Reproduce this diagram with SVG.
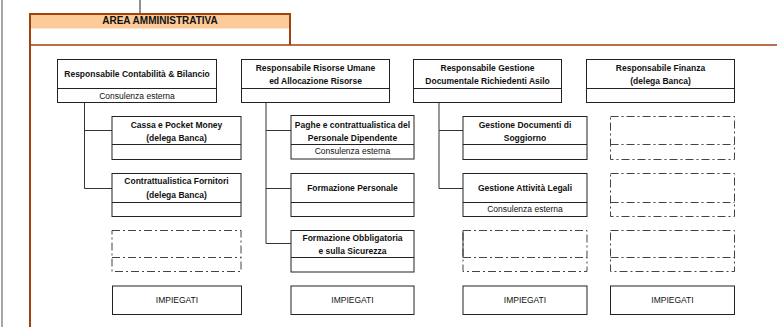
<svg xmlns="http://www.w3.org/2000/svg" width="777" height="327" viewBox="0 0 777 327">
<style>
text{font-family:"Liberation Sans",Arial,sans-serif;fill:#111;text-anchor:middle}
.t{font-size:8.5px;font-weight:bold}
.s{font-size:8.5px}
.h{font-size:10px;font-weight:bold}
.box{fill:#fff;stroke:#222;stroke-width:1}
.dash{fill:none;stroke:#444;stroke-width:1;stroke-dasharray:8 3 2 3}
.con{fill:none;stroke:#333;stroke-width:1}
.brown{fill:none;stroke:#A3410E}
</style>
<rect width="777" height="327" fill="#fff"/>
<g id="frame">
<line x1="2" y1="0" x2="2" y2="327" stroke="#888" stroke-width="1.5"/>
<line x1="140" y1="0" x2="140" y2="14" stroke="#222" stroke-width="1"/>
<rect x="30" y="14" width="260" height="14.5" fill="#FCCB97"/>
<path class="brown" stroke-width="2" d="M30 327 V14 H290 V45"/>
<line class="brown" stroke-width="1.5" x1="30" y1="45" x2="777" y2="45"/>
<text class="h" x="160" y="24">AREA AMMINISTRATIVA</text>
</g>
<g id="connectors">
<path class="con" d="M84.5 102 V188.5 M84.5 130.5 H112 M84.5 188.5 H112"/>
<path class="con" d="M266 102 V243.5 M266 130.5 H291 M266 188.5 H291 M266 243.5 H291"/>
<path class="con" d="M439 102 V188.5 M439 130.5 H463 M439 188.5 H463"/>
</g>
<g id="n-contabilita">
<rect class="box" x="57.5" y="59.5" width="159" height="43"/>
<line class="box" x1="57.5" y1="88.5" x2="216.5" y2="88.5"/>
<text class="t" x="137" y="77">Responsabile Contabilità &amp; Bilancio</text>
<text class="s" x="137" y="98.5">Consulenza esterna</text>
</g>
<g id="n-risorse">
<rect class="box" x="241.5" y="59.5" width="148" height="43"/>
<line class="box" x1="241.5" y1="88.5" x2="389.5" y2="88.5"/>
<text class="t" x="315.5" y="71">Responsabile Risorse Umane</text>
<text class="t" x="315.5" y="84">ed Allocazione Risorse</text>
</g>
<g id="n-gestione">
<rect class="box" x="413.5" y="59.5" width="148" height="43"/>
<line class="box" x1="413.5" y1="88.5" x2="561.5" y2="88.5"/>
<text class="t" x="487.5" y="71">Responsabile Gestione</text>
<text class="t" x="487.5" y="84">Documentale Richiedenti Asilo</text>
</g>
<g id="n-finanza">
<rect class="box" x="586.5" y="59.5" width="148" height="43"/>
<line class="box" x1="586.5" y1="88.5" x2="734.5" y2="88.5"/>
<text class="t" x="660.5" y="71">Responsabile Finanza</text>
<text class="t" x="660.5" y="84">(delega Banca)</text>
</g>
<g id="n-cassa">
<rect class="box" x="112" y="116.5" width="129" height="43"/>
<line class="box" x1="112" y1="144.5" x2="241" y2="144.5"/>
<text class="t" x="176.5" y="128">Cassa e Pocket Money</text>
<text class="t" x="176.5" y="141">(delega Banca)</text>
</g>
<g id="n-fornitori">
<rect class="box" x="112" y="173.5" width="129" height="43"/>
<line class="box" x1="112" y1="202.5" x2="241" y2="202.5"/>
<text class="t" x="176.5" y="184">Contrattualistica Fornitori</text>
<text class="t" x="176.5" y="197.5">(delega Banca)</text>
</g>
<g id="n-empty1">
<rect class="dash" x="112" y="230.5" width="129" height="41"/>
<line class="dash" x1="112" y1="257.5" x2="241" y2="257.5"/>
</g>
<g id="n-imp1">
<rect class="box" x="112.5" y="286" width="129" height="28.5"/>
<text class="s" x="177" y="302.5">IMPIEGATI</text>
</g>
<g id="n-paghe">
<rect class="box" x="291" y="115.5" width="123" height="43.5"/>
<line class="box" x1="291" y1="144.5" x2="414" y2="144.5"/>
<text class="t" x="352.5" y="128">Paghe e contrattualistica del</text>
<text class="t" x="352.5" y="140.5">Personale  Dipendente</text>
<text class="s" x="352.5" y="154">Consulenza esterna</text>
</g>
<g id="n-formazione">
<rect class="box" x="291" y="173.5" width="123" height="43"/>
<line class="box" x1="291" y1="202.5" x2="414" y2="202.5"/>
<text class="t" x="352.5" y="190.5">Formazione Personale</text>
</g>
<g id="n-obbligatoria">
<rect class="box" x="291" y="230.5" width="123" height="41.5"/>
<line class="box" x1="291" y1="257.5" x2="414" y2="257.5"/>
<text class="t" x="352.5" y="240.5">Formazione Obbligatoria</text>
<text class="t" x="352.5" y="254">e sulla Sicurezza</text>
</g>
<g id="n-imp2">
<rect class="box" x="291" y="286" width="123" height="28.5"/>
<text class="s" x="352.5" y="302.5">IMPIEGATI</text>
</g>
<g id="n-documenti">
<rect class="box" x="463" y="116.5" width="124" height="43"/>
<line class="box" x1="463" y1="144.5" x2="587" y2="144.5"/>
<text class="t" x="525" y="128">Gestione Documenti di</text>
<text class="t" x="525" y="141">Soggiorno</text>
</g>
<g id="n-legali">
<rect class="box" x="463" y="173.5" width="124" height="43"/>
<line class="box" x1="463" y1="202.5" x2="587" y2="202.5"/>
<text class="t" x="525" y="190.5">Gestione Attività Legali</text>
<text class="s" x="525" y="211.5">Consulenza esterna</text>
</g>
<g id="n-empty3">
<rect class="dash" x="463" y="230.5" width="124" height="41"/>
<line class="dash" x1="463" y1="257.5" x2="587" y2="257.5"/>
<line class="con" x1="463" y1="230.5" x2="463" y2="257.5"/>
</g>
<g id="n-imp3">
<rect class="box" x="463" y="286" width="124" height="28.5"/>
<text class="s" x="525" y="302.5">IMPIEGATI</text>
</g>
<g id="n-empty4a">
<rect class="dash" x="610.5" y="116.5" width="124" height="43"/>
<line class="dash" x1="610.5" y1="144.5" x2="734.5" y2="144.5"/>
</g>
<g id="n-empty4b">
<rect class="dash" x="610.5" y="173.5" width="124" height="43"/>
<line class="dash" x1="610.5" y1="202.5" x2="734.5" y2="202.5"/>
</g>
<g id="n-empty4c">
<rect class="dash" x="610.5" y="230.5" width="124" height="41"/>
<line class="dash" x1="610.5" y1="257.5" x2="734.5" y2="257.5"/>
</g>
<g id="n-imp4">
<rect class="box" x="610.5" y="286" width="124" height="28.5"/>
<text class="s" x="672.5" y="302.5">IMPIEGATI</text>
</g>
</svg>
